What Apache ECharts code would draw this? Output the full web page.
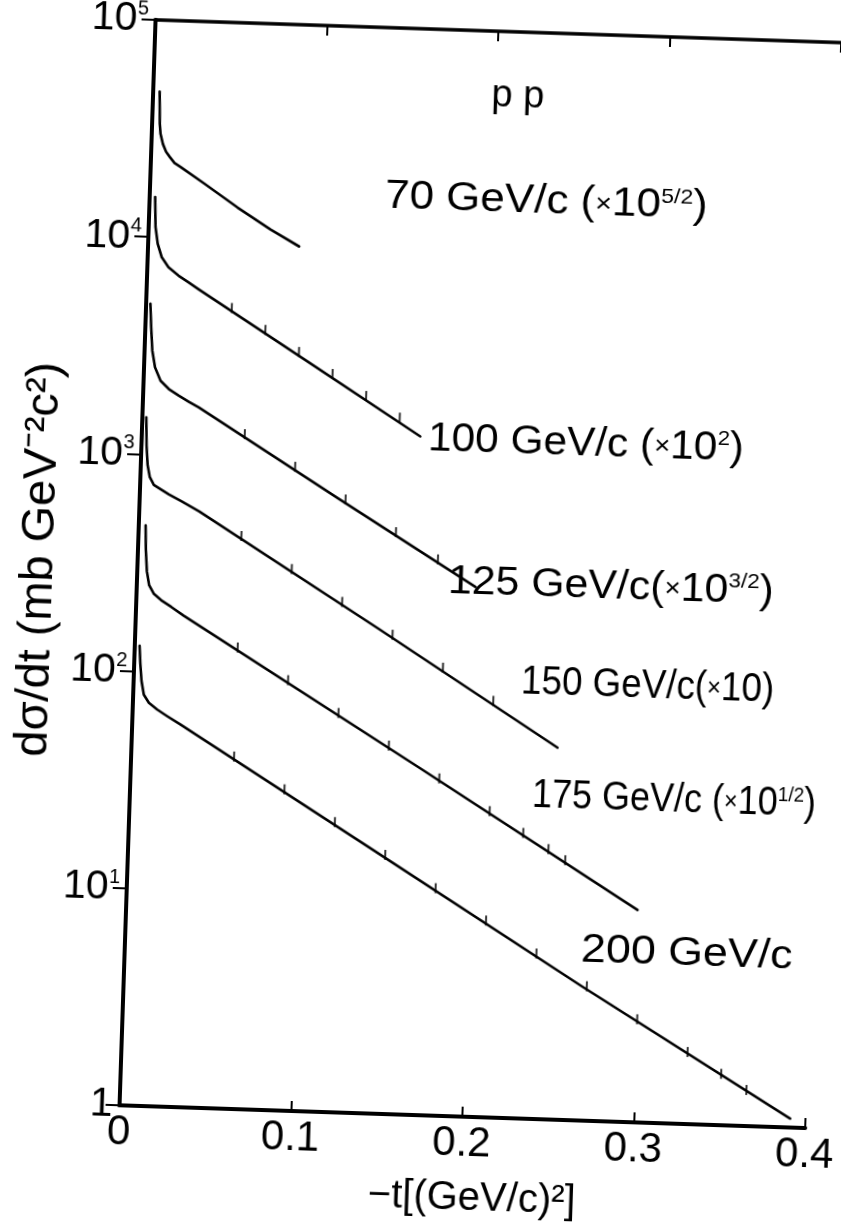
<!DOCTYPE html>
<html>
<head>
<meta charset="utf-8">
<script src="https://cdn.jsdelivr.net/npm/echarts@6/dist/echarts.min.js"></script>
<style>
  html, body { margin: 0; padding: 0; background: #fff; overflow: hidden; width: 841px; height: 1228px; }
  #main { width: 901px; height: 1228px; transform: rotate(1.9deg); transform-origin: 420.5px 614px; }
</style>
</head>
<body>
<div id="main"></div>
<script>
// ---- data: -t in (GeV/c)^2, dsigma/dt (scaled) in mb GeV^-2 c^2 ----
const x70  = [0.0038, 0.0045, 0.0051, 0.0067, 0.0087, 0.0110, 0.0138, 0.0176, 0.0318, 0.0514, 0.0710, 0.0881];
const y70  = [46800, 33300, 30000, 26900, 24800, 23500, 22100, 21200, 17900, 14100, 11300, 9530];
const x100 = [0.0032, 0.0040, 0.0056, 0.0082, 0.0123, 0.0183, 0.0242, 0.0301, 0.0954, 0.1623];
const y100 = [15300, 11140, 9330, 8110, 7310, 6710, 6280, 5860, 2820, 1330];
const x125 = [0.0025, 0.0034, 0.0045, 0.0064, 0.0099, 0.0149, 0.0209, 0.0268, 0.0327, 0.1156, 0.1974];
const y125 = [4930, 3850, 3010, 2520, 2190, 2010, 1880, 1770, 1671, 671, 275];
const x150 = [0.0023, 0.0030, 0.0040, 0.0055, 0.0080, 0.0115, 0.0170, 0.0240, 0.0350, 0.1416, 0.2483];
const y150 = [1479, 1096, 891, 785, 724, 697, 658, 617, 555, 171, 51.6];
const x175 = [0.0040, 0.0046, 0.0056, 0.0072, 0.0100, 0.0145, 0.0205, 0.0280, 0.0375, 0.1680, 0.2981];
const y175 = [470, 363, 290, 250, 229, 214, 200, 183, 165, 39.8, 9.51];
const x200 = [0.0028, 0.0036, 0.0046, 0.0062, 0.0093, 0.0143, 0.0202, 0.0281, 0.1500, 0.2671, 0.3911];
const y200 = [131, 108, 90.4, 78.3, 71.9, 67.1, 62.8, 57.7, 15.1, 4.15, 1.10];

// small error-bar marks seen along the curves
const errX100 = [0.05, 0.07, 0.09, 0.11, 0.13, 0.15];
const errY100 = [4700, 3770, 3020, 2420, 1940, 1560];
const errX125 = [0.06, 0.09, 0.12, 0.15, 0.175];
const errY125 = [1240, 893, 643, 463, 352];
const errX150 = [0.06, 0.09, 0.12, 0.15, 0.18, 0.21];
const errY150 = [421, 302, 217, 156, 112, 80.2];
const errX175 = [0.06, 0.09, 0.12, 0.15, 0.18, 0.21, 0.23, 0.245, 0.255];
const errY175 = [129, 92.9, 66.8, 48.1, 34.6, 24.9, 20.0, 17.0, 15.2];
const errX200 = [0.06, 0.09, 0.12, 0.15, 0.18, 0.21, 0.24, 0.27, 0.30, 0.33, 0.35, 0.365];
const errY200 = [40.6, 29.2, 21.0, 15.1, 10.8, 7.8, 5.6, 4.03, 2.89, 2.08, 1.67, 1.42];

const seriesNames = ['70 GeV/c', '100 GeV/c', '125 GeV/c', '150 GeV/c', '175 GeV/c', '200 GeV/c'];
const xTickLabels = ['0', '0.1', '0.2', '0.3', '0.4'];
const yTickBase = ['1', '10', '10', '10', '10', '10'];
const yTickSup  = ['', '1', '2', '3', '4', '5'];

const curveLabels = [
  { text: '{a|70 GeV/c (}{x|×}{a|10}{s|5/2}{a|)}', px: 385, py: 197, sx: 1.1 },
  { text: '{a|100 GeV/c (}{x|×}{a|10}{s|2}{a|)}', px: 428, py: 439, sx: 1.06 },
  { text: '{a|125 GeV/c(}{x|×}{a|10}{s|3/2}{a|)}', px: 448, py: 582, sx: 1.07 },
  { text: '{a|150 GeV/c(}{x|×}{a|10)}', px: 521, py: 682, sx: 0.92 },
  { text: '{a|175 GeV/c (}{x|×}{a|10}{s|1/2}{a|)}', px: 532, py: 796, sx: 0.9 },
  { text: '{a|200 GeV/c}', px: 581, py: 950, sx: 1.12 }
];

// ---- layout helpers (page is slightly rotated like the scan) ----
const ANG = 1.9 * Math.PI / 180, CX = 420.5, CY = 614;
function toLocal(xp, yp) {
  const dx = xp - CX, dy = yp - CY;
  return [CX + dx * Math.cos(ANG) + dy * Math.sin(ANG), CY - dx * Math.sin(ANG) + dy * Math.cos(ANG)];
}
const FONT = "'Liberation Sans', Arial, sans-serif";

function pairs(xs, ys) { return xs.map((v, i) => [v, ys[i]]); }
const allX = [x70, x100, x125, x150, x175, x200];
const allY = [y70, y100, y125, y150, y175, y200];
const errXs = [errX100, errX125, errX150, errX175, errX200];
const errYs = [errY100, errY125, errY150, errY175, errY200];

const chart = echarts.init(document.getElementById('main'), null, { renderer: 'canvas' });

const graphics = curveLabels.map(l => {
  const p = toLocal(l.px, l.py);
  return {
    type: 'text', x: p[0], y: p[1], z: 10, scaleX: l.sx,
    style: {
      text: l.text, align: 'left', verticalAlign: 'middle', fill: '#000',
      rich: {
        a: { fontSize: 40, fontFamily: FONT, fill: '#000' },
        x: { fontSize: 26, fontFamily: FONT, fill: '#000' },
        s: { fontSize: 21, fontFamily: FONT, fill: '#000', verticalAlign: 'top' }
      }
    }
  };
});
const ppPos = toLocal(518, 96);
graphics.push({ type: 'text', x: ppPos[0], y: ppPos[1], z: 10,
  style: { text: 'p p', align: 'center', verticalAlign: 'middle', fontSize: 38, fontFamily: FONT, fill: '#000' } });

const lineSeries = seriesNames.map((n, i) => ({
  name: n, type: 'line', xAxisIndex: 0, yAxisIndex: 0,
  data: pairs(allX[i], allY[i]),
  showSymbol: false, smooth: false,
  lineStyle: { color: '#000', width: 2.6, join: 'round', cap: 'round' },
  itemStyle: { color: '#000' }
}));
const errSeries = errXs.map((xs, i) => ({
  name: seriesNames[i + 1] + ' points', type: 'scatter', xAxisIndex: 0, yAxisIndex: 0,
  data: pairs(xs, errYs[i]),
  symbol: 'rect', symbolSize: [2, 10], symbolOffset: [0, -3],
  itemStyle: { color: '#000' }, silent: true
}));

const option = {
  backgroundColor: '#fff',
  animation: false,
  grid: { left: 136, right: 79, top: 29, bottom: 113, containLabel: false, outerBoundsMode: 'none' },
  xAxis: [
    {
      type: 'value', min: 0, max: 0.4, interval: 0.1, position: 'bottom',
      name: '−t[(GeV/c)²]', nameLocation: 'middle', nameGap: 62,
      nameTextStyle: { fontSize: 40, fontFamily: FONT, color: '#000', padding: [0, 0, 0, 24] },
      axisLine: { show: true, lineStyle: { color: '#000', width: 4 } },
      axisTick: { show: true, inside: true, length: 10, lineStyle: { color: '#000', width: 2 } },
      axisLabel: { show: true, fontSize: 42, fontFamily: FONT, color: '#000', margin: 6,
        showMinLabel: true, showMaxLabel: true,
        formatter: (v) => xTickLabels[Math.round(v * 10)] },
      splitLine: { show: false }
    },
    {
      type: 'value', min: 0, max: 0.4, interval: 0.1, position: 'top',
      axisLine: { show: true, lineStyle: { color: '#000', width: 3.5 } },
      axisTick: { show: true, inside: true, length: 10, lineStyle: { color: '#000', width: 2 } },
      axisLabel: { show: false }, splitLine: { show: false }
    }
  ],
  yAxis: [
    {
      type: 'log', logBase: 10, min: 1, max: 100000, position: 'left',
      name: 'dσ/dt (mb GeV⁻²c²)', nameLocation: 'middle', nameGap: 66,
      nameTextStyle: { fontSize: 47, fontFamily: FONT, color: '#000' },
      axisLine: { show: true, lineStyle: { color: '#000', width: 4 } },
      axisTick: { show: true, inside: false, length: 9, lineStyle: { color: '#000', width: 2 } },
      axisLabel: {
        show: true, margin: 7, color: '#000', showMinLabel: true, showMaxLabel: true,
        formatter: (v) => {
          const e = Math.round(Math.log10(v));
          return yTickSup[e] ? '{b|' + yTickBase[e] + '}{s|' + yTickSup[e] + '}' : '{b|' + yTickBase[e] + '}';
        },
        rich: {
          b: { fontSize: 41, fontFamily: FONT, color: '#000' },
          s: { fontSize: 20, fontFamily: FONT, color: '#000', verticalAlign: 'top' }
        }
      },
      splitLine: { show: false }, minorTick: { show: false }
    },
    {
      type: 'log', logBase: 10, min: 1, max: 100000, position: 'right',
      axisLine: { show: true, lineStyle: { color: '#000', width: 4 } },
      axisTick: { show: true, inside: true, length: 14, lineStyle: { color: '#000', width: 2 } },
      axisLabel: { show: false }, splitLine: { show: false }
    }
  ],
  series: lineSeries.concat(errSeries),
  graphic: graphics
};
chart.setOption(option);
</script>
</body>
</html>
